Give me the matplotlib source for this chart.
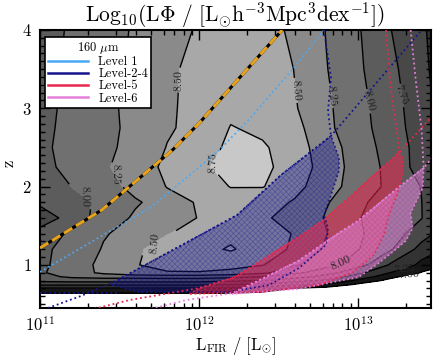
import numpy as np
import matplotlib
matplotlib.use('Agg')
import matplotlib.pyplot as plt
from matplotlib.lines import Line2D
from matplotlib.ticker import MultipleLocator, LogLocator, NullFormatter

plt.rcParams['font.family'] = ['cmr10', 'DejaVu Serif']
plt.rcParams['mathtext.fontset'] = 'cm'
plt.rcParams['axes.formatter.use_mathtext'] = True
plt.rcParams['hatch.linewidth'] = 0.5

# ---------------- data ----------------
logL_grid = [11.0, 11.2, 11.4, 11.6, 11.8, 12.0, 12.2, 12.4, 12.6, 12.8, 13.0, 13.2, 13.4, 13.6]
z_grid = [0.45, 0.6, 0.65, 0.7, 0.75, 0.8, 0.85, 0.9, 1.0, 1.2, 1.4, 1.6, 1.8, 2.0, 2.25, 2.5, 2.75, 3.0, 3.5, 4.0]

phi_z0p45 = [6.0] * 14
phi_z0p60 = [6.8, 6.8, 6.8, 6.8, 6.8, 6.8, 6.85, 6.7, 6.3, 6.2, 6.1, 6.0, 6.0, 6.0]
phi_z0p65 = [7.05, 7.05, 7.05, 7.05, 7.05, 7.05, 7.03, 6.98, 6.6, 6.4, 6.3, 6.2, 6.0, 6.0]
phi_z0p70 = [7.22, 7.22, 7.22, 7.22, 7.22, 7.22, 7.2, 7.15, 6.98, 6.9, 6.6, 6.4, 6.1, 6.0]
phi_z0p75 = [7.55, 7.55, 7.55, 7.55, 7.55, 7.55, 7.5, 7.45, 7.3, 7.2, 6.95, 6.6, 6.3, 6.1]
phi_z0p80 = [7.82, 7.85, 7.85, 7.85, 7.85, 7.85, 7.8, 7.75, 7.6, 7.45, 7.2, 6.9, 6.5, 6.3]
phi_z0p85 = [7.93, 8.05, 8.1, 8.1, 8.12, 8.12, 8.08, 8.0, 7.85, 7.65, 7.38, 7.1, 6.7, 6.5]
phi_z0p90 = [7.97, 8.15, 8.3, 8.45, 8.48, 8.48, 8.42, 8.3, 8.05, 7.85, 7.55, 7.25, 6.98, 6.7]
phi_z1p00 = [7.95, 8.14, 8.32, 8.49, 8.58, 8.62, 8.6, 8.51, 8.28, 8.08, 7.84, 7.48, 7.18, 6.95]
phi_z1p20 = [7.95, 8.1, 8.27, 8.47, 8.6, 8.7, 8.77, 8.62, 8.455, 8.21, 8.01, 7.78, 7.4, 7.15]
phi_z1p40 = [7.85, 8.06, 8.23, 8.36, 8.49, 8.62, 8.7, 8.64, 8.48, 8.26, 8.03, 7.85, 7.62, 7.25]
phi_z1p60 = [7.6, 7.88, 8.12, 8.29, 8.4, 8.51, 8.56, 8.53, 8.405, 8.23, 8.01, 7.88, 7.76, 7.2]
phi_z1p80 = [7.8, 7.925, 8.06, 8.22, 8.39, 8.53, 8.6, 8.58, 8.48, 8.27, 8.04, 7.89, 7.755, 7.2]
phi_z2p00 = [7.85, 8.005, 8.16, 8.33, 8.51, 8.62, 8.76, 8.76, 8.57, 8.34, 8.13, 7.94, 7.74, 7.2]
phi_z2p25 = [7.94, 8.074, 8.22, 8.39, 8.556, 8.71, 8.84, 8.8, 8.63, 8.38, 8.13, 7.93, 7.62, 7.2]
phi_z2p50 = [7.96, 8.08, 8.197, 8.34, 8.51, 8.655, 8.8, 8.78, 8.6, 8.36, 8.11, 7.9, 7.63, 7.25]
phi_z2p75 = [7.95, 8.07, 8.19, 8.32, 8.47, 8.6, 8.76, 8.7, 8.57, 8.3, 8.08, 7.87, 7.6, 7.25]
phi_z3p00 = [7.94, 8.064, 8.193, 8.33, 8.47, 8.58, 8.7, 8.66, 8.52, 8.29, 8.07, 7.85, 7.59, 7.3]
phi_z3p50 = [7.93, 8.05, 8.17, 8.3, 8.46, 8.58, 8.7, 8.66, 8.495, 8.26, 8.035, 7.81, 7.55, 7.3]
phi_z4p00 = [7.91, 8.034, 8.157, 8.28, 8.407, 8.53, 8.62, 8.58, 8.453, 8.242, 8.02, 7.76, 7.53, 7.3]

contour_levels = [7.0, 7.25, 7.5, 7.75, 8.0, 8.25, 8.5, 8.75]
fill_grays = [22, 50, 72, 92, 112, 138, 168, 200]

# contour label anchor points (logL, z)
label_logL = [11.815, 11.44, 11.25, 11.75, 12.05, 12.63, 12.87, 13.09, 13.28, 12.87, 13.29, 13.32]
label_z = [3.36, 2.15, 1.87, 1.28, 2.31, 3.23, 3.17, 3.11, 3.17, 1.10, 0.99, 0.88]

# Level 1 (160 um) flux limit
lev1_logL = [11.0, 11.408, 11.69, 12.003, 12.129, 12.317, 12.586, 12.787]
lev1_z = [0.91, 1.395, 1.727, 2.251, 2.468, 2.864, 3.49, 4.0]

# Level 2-4 flux limit, upper-L limit and hatched region
lev24_logL = [11.05, 11.257, 11.489, 12.241, 12.517, 12.831, 13.401]
lev24_z = [0.45, 0.603, 0.808, 1.638, 2.149, 2.647, 4.0]
lev24_top_logL = [12.787, 12.831, 12.812, 12.831]
lev24_top_z = [4.0, 3.387, 2.966, 2.647]
lev24_base_logL = [11.0, 11.49]
lev24_base_z = [0.64, 0.64]
lev24_reg_logL = [11.451, 11.489, 12.241, 12.517, 12.831, 12.881, 12.881, 12.831, 12.787,
                  12.812, 12.799, 12.63, 12.442, 12.191, 11.627]
lev24_reg_z = [0.744, 0.808, 1.638, 2.149, 2.647, 2.366, 2.2, 1.893, 1.638,
               1.472, 1.255, 0.961, 0.744, 0.654, 0.654]

# Level 5
lev5_logL = [11.313, 11.564, 12.003, 12.229, 12.517, 12.787, 13.082, 13.257, 13.458]
lev5_z = [0.425, 0.552, 0.705, 0.846, 1.216, 1.574, 2.11, 2.43, 2.877]
lev5_top_logL = [13.176, 13.207, 13.251, 13.257]
lev5_top_z = [4.0, 3.26, 2.62, 2.43]
lev5_reg_logL = [11.94, 12.003, 12.229, 12.517, 12.787, 13.082, 13.257, 13.282, 13.282, 13.245,
                 13.194, 13.163, 13.1, 12.975, 12.755, 12.379]
lev5_reg_z = [0.629, 0.705, 0.846, 1.216, 1.574, 2.11, 2.43, 2.366, 2.149, 1.893,
              1.638, 1.382, 1.127, 0.91, 0.744, 0.654]

# Level 6
lev6_logL = [11.671, 11.922, 12.21, 12.624, 12.881, 13.0, 13.251, 13.414, 13.508]
lev6_z = [0.425, 0.552, 0.64, 1.05, 1.408, 1.561, 1.983, 2.238, 2.468]
lev6_top_logL = [13.332, 13.364, 13.401, 13.414]
lev6_top_z = [4.0, 3.36, 2.723, 2.238]
lev6_reg_logL = [12.21, 12.624, 12.881, 13.0, 13.251, 13.414, 13.408, 13.332, 13.345, 13.301,
                 13.226, 13.132, 13.006, 12.63]
lev6_reg_z = [0.629, 1.05, 1.408, 1.561, 1.983, 2.238, 1.983, 1.664, 1.472, 1.306,
              1.178, 1.025, 0.846, 0.693]

# IR luminosity-limit curve (orange/black dashed)
lim_logL = [11.0, 11.389, 11.834, 12.003, 12.254, 12.524]
lim_z = [1.216, 1.702, 2.468, 2.813, 3.387, 4.0]

legend_labels = ['Level 1', 'Level-2-4', 'Level-5', 'Level-6']

# ---------------- colours ----------------
c_lev1 = '#4aa8f5'
c_lev24 = '#14148c'
c_lev5 = '#e8284f'
c_lev6 = '#e480dc'
c_orange = '#e8a31c'

# ---------------- figure ----------------
fig = plt.figure(figsize=(4.36, 3.58), dpi=100)
ax = fig.add_axes([40 / 436, 50 / 358, 391 / 436, 278 / 358])

phi = np.array([phi_z0p45, phi_z0p60, phi_z0p65, phi_z0p70, phi_z0p75, phi_z0p80, phi_z0p85,
                phi_z0p90, phi_z1p00, phi_z1p20, phi_z1p40, phi_z1p60, phi_z1p80, phi_z2p00,
                phi_z2p25, phi_z2p50, phi_z2p75, phi_z3p00, phi_z3p50, phi_z4p00])
Lg = 10 ** np.array(logL_grid)
zg = np.array(z_grid)

fill_cols = [(g / 255, g / 255, g / 255) for g in fill_grays]
ax.contourf(Lg, zg, phi, levels=contour_levels + [9.5], colors=fill_cols, zorder=1)
cs = ax.contour(Lg, zg, phi, levels=contour_levels, colors='k', linewidths=1.0, zorder=2)
ax.clabel(cs, fmt='%.2f', fontsize=8.5, inline=True, inline_spacing=2, colors='#202020',
          manual=list(zip(10 ** np.array(label_logL), label_z)))

dot = (0, (1, 1.6))


def region(lx, lz, col, alpha):
    x = 10 ** np.array(lx)
    ax.fill(x, lz, facecolor=col, alpha=alpha, edgecolor='none', zorder=3)
    ax.fill(x, lz, facecolor='none', edgecolor=col, hatch='xxxxxx', linewidth=0, alpha=0.35, zorder=3)
    ax.plot(np.append(x, x[0]), list(lz) + [lz[0]], color=col, ls=dot, lw=1.2, zorder=4)


region(lev24_reg_logL, lev24_reg_z, c_lev24, 0.35)
region(lev5_reg_logL, lev5_reg_z, c_lev5, 0.5)
region(lev6_reg_logL, lev6_reg_z, c_lev6, 0.48)

for lx, lz, col in [(lev1_logL, lev1_z, c_lev1),
                    (lev24_logL, lev24_z, c_lev24), (lev24_top_logL, lev24_top_z, c_lev24),
                    (lev24_base_logL, lev24_base_z, c_lev24),
                    (lev5_logL, lev5_z, c_lev5), (lev5_top_logL, lev5_top_z, c_lev5),
                    (lev6_logL, lev6_z, c_lev6), (lev6_top_logL, lev6_top_z, c_lev6)]:
    ax.plot(10 ** np.array(lx), lz, color=col, ls=dot, lw=1.3, zorder=4)

xl = 10 ** np.array(lim_logL)
ax.plot(xl, lim_z, color='k', lw=2.2, solid_capstyle='butt', zorder=5)
ax.plot(xl, lim_z, color=c_orange, lw=2.2, dashes=(3.2, 1.4), dash_capstyle='butt', zorder=5)

ax.set_xscale('log')
ax.set_xlim(1e11, 10 ** 13.46)
ax.set_ylim(0.45, 4.0)
ax.yaxis.set_major_locator(MultipleLocator(1))
ax.yaxis.set_minor_locator(MultipleLocator(0.1))
ax.xaxis.set_major_locator(LogLocator(base=10, numticks=10))
ax.xaxis.set_minor_locator(LogLocator(base=10, subs=np.arange(2, 10), numticks=20))
ax.xaxis.set_minor_formatter(NullFormatter())
ax.tick_params(which='both', direction='in', top=True, right=True, width=1.0, colors='k')
ax.tick_params(which='major', length=7, labelsize=12, pad=6)
ax.tick_params(which='minor', length=3.5)
ax.tick_params(axis='x', which='major', pad=5)
for s in ax.spines.values():
    s.set_linewidth(1.5)

ax.set_xlabel(r'$\mathrm{L_{FIR}\ /\ [L_{\odot}]}$', fontsize=12, labelpad=1)
fig.text(0.02, 0.545, 'z', rotation=90, ha='center', va='center', fontsize=12)
fig.text(0.54, 0.957, r'$\mathrm{Log_{10}(L\Phi\ /\ [L_{\odot}h^{-3}Mpc^{3}dex^{-1}])}$',
         ha='center', va='center', fontsize=15.5)

handles = [Line2D([], [], color=c, lw=1.8) for c in (c_lev1, c_lev24, c_lev5, c_lev6)]
leg = ax.legend(handles, legend_labels, title=r'160 $\mu$m', loc='upper left',
                bbox_to_anchor=(0.013, 0.975), borderaxespad=0, fontsize=9, title_fontsize=9,
                handlelength=3.2, handletextpad=0.8, labelspacing=0.0, borderpad=0.25,
                fancybox=False, framealpha=1, edgecolor='k')
leg.get_frame().set_linewidth(1.2)
leg.set_zorder(10)

fig.savefig('out.png', dpi=100)
